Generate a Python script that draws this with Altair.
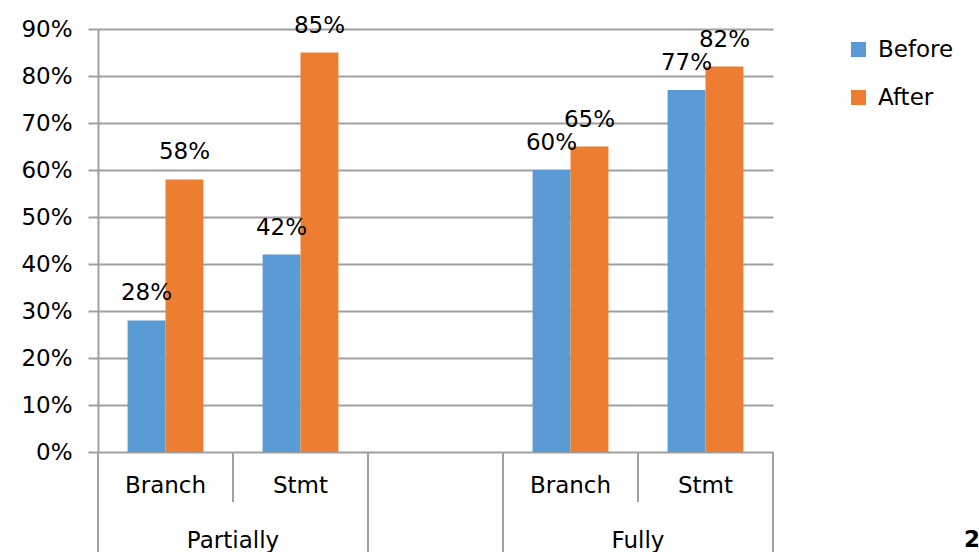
import altair as alt
import pandas as pd

# ---- data ----
groups = ["Partially", "Partially", "Fully", "Fully"]
metrics = ["Branch", "Stmt", "Branch", "Stmt"]
before = [0.28, 0.42, 0.60, 0.77]
after = [0.58, 0.85, 0.65, 0.82]
series = ["Before", "After"]
colors = ["#5B9BD5", "#ED7D31"]
slide_number = "2"

# category slots (including an empty slot between the two groups)
slot_keys = [f"{g}|{m}" for g, m in zip(groups, metrics)]
slots = slot_keys[:2] + ["gap"] + slot_keys[2:]

rows = []
for k, b, a in zip(slot_keys, before, after):
    rows.append({"slot": k, "series": "Before", "value": b})
    rows.append({"slot": k, "series": "After", "value": a})
bars_df = pd.DataFrame(rows)

metric_df = pd.DataFrame({"slot": slot_keys, "label": metrics})
group_df = pd.DataFrame({"slot": [slot_keys[0], slot_keys[2]], "label": [groups[0], groups[2]]})

FONT = "DejaVu Sans"
GRAY = "#A0A0A0"
W, H = 675, 423

xscale = alt.Scale(domain=slots, paddingInner=0, paddingOuter=0)
yscale = alt.Scale(domain=[0, 0.9], nice=False, zero=True)
xoff = alt.XOffset("series:N", scale=alt.Scale(domain=series, paddingInner=0, paddingOuter=0.78))

base = alt.Chart(bars_df)

bars = base.mark_bar().encode(
    x=alt.X("slot:N", scale=xscale, axis=None),
    xOffset=xoff,
    y=alt.Y(
        "value:Q",
        scale=yscale,
        axis=alt.Axis(
            values=[i / 10 for i in range(10)],
            format=".0%",
            title=None,
            labelFont=FONT,
            labelFontSize=23,
            labelColor="#000000",
            labelPadding=16,
            tickSize=10,
            tickColor=GRAY,
            tickWidth=2,
            domainColor=GRAY,
            domainWidth=2,
            gridColor=GRAY,
            gridWidth=2,
        ),
    ),
    color=alt.Color(
        "series:N",
        scale=alt.Scale(domain=series, range=colors),
        legend=alt.Legend(
            title=None,
            orient="none",
            legendX=749,
            legendY=9,
            symbolType="square",
            symbolSize=225,
            symbolStrokeWidth=0,
            symbolOpacity=1,
            labelFont=FONT,
            labelFontSize=23,
            labelColor="#000000",
            labelOffset=8,
            rowPadding=24,
        ),
    ),
)

labels = base.mark_text(
    font=FONT, fontSize=23, baseline="alphabetic", dy=-20, color="#000000"
).encode(
    x=alt.X("slot:N", scale=xscale, axis=None),
    xOffset=xoff,
    y=alt.Y("value:Q", scale=yscale),
    text=alt.Text("value:Q", format=".0%"),
)

# table lines of the category axis
short_df = pd.DataFrame({"slot": [slots[1], slots[4]]})
long_df = pd.DataFrame({"slot": [slots[0], slots[2], slots[3]]})
end_df = pd.DataFrame({"slot": [slots[4]]})

short_rules = alt.Chart(short_df).mark_rule(color=GRAY, strokeWidth=2).encode(
    x=alt.X("slot:N", scale=xscale, axis=None, bandPosition=0),
    y=alt.value(H),
    y2=alt.value(H + 50),
)
long_rules = alt.Chart(long_df).mark_rule(color=GRAY, strokeWidth=2).encode(
    x=alt.X("slot:N", scale=xscale, axis=None, bandPosition=0),
    y=alt.value(H),
    y2=alt.value(H + 100),
)
end_rule = alt.Chart(end_df).mark_rule(color=GRAY, strokeWidth=2).encode(
    x=alt.X("slot:N", scale=xscale, axis=None, bandPosition=1),
    y=alt.value(H),
    y2=alt.value(H + 100),
)

metric_text = alt.Chart(metric_df).mark_text(
    font=FONT, fontSize=23, baseline="middle", color="#000000"
).encode(
    x=alt.X("slot:N", scale=xscale, axis=None, bandPosition=0.5),
    y=alt.value(H + 34),
    text="label:N",
)
group_text = alt.Chart(group_df).mark_text(
    font=FONT, fontSize=23, baseline="middle", color="#000000"
).encode(
    x=alt.X("slot:N", scale=xscale, axis=None, bandPosition=1),
    y=alt.value(H + 89),
    text="label:N",
)

page_num = alt.Chart(pd.DataFrame({"t": [slide_number]})).mark_text(
    font=FONT, fontSize=23, fontWeight="bold", baseline="middle", align="left", color="#000000"
).encode(
    x=alt.value(866),
    y=alt.value(H + 88),
    text="t:N",
)

chart = (
    alt.layer(bars, labels, short_rules, long_rules, end_rule, metric_text, group_text, page_num)
    .properties(
        width=W,
        height=H,
        autosize=alt.AutoSizeParams(type="none"),
        padding={"left": 98, "top": 29, "right": 206, "bottom": 100},
        background="white",
    )
    .configure_view(stroke=None)
)

chart.save("out.html", embed_options={"renderer": "svg", "actions": False})
